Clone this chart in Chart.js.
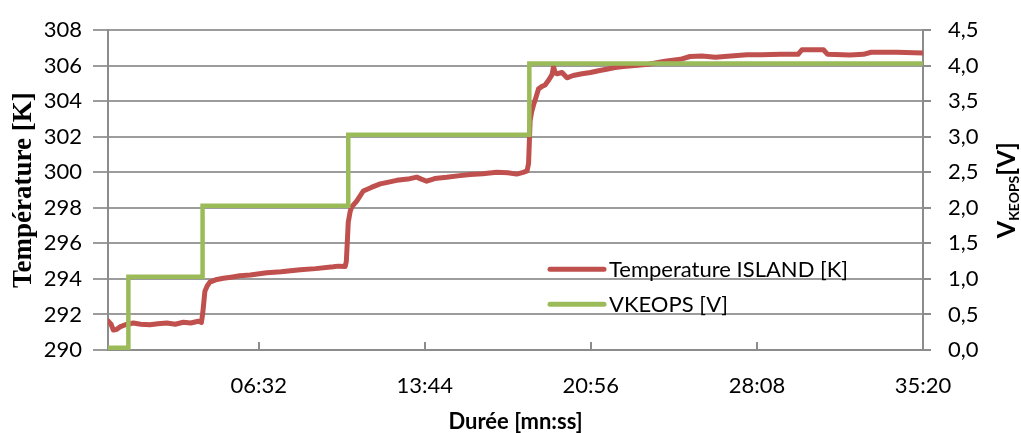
<!DOCTYPE html>
<html>
<head>
<meta charset="utf-8">
<script src="https://cdn.jsdelivr.net/npm/chart.js@4.4.0/dist/chart.umd.min.js"></script>
<style>
  html, body { margin: 0; padding: 0; background: #fff; }
  #wrap { width: 1021px; height: 433px; }
</style>
</head>
<body>
<div id="wrap"><canvas id="chart"></canvas></div>
<script>
// time in seconds since start
const tempTimes = [0, 8, 14, 22, 31, 45, 66, 85, 109, 130, 153, 175, 196, 215, 235, 243,
  246, 248, 252, 258, 265, 280, 300, 320, 343, 370, 413, 450, 500, 540, 586, 600, 617,
  620, 623, 625, 630, 634, 647, 664, 685, 708, 730, 751, 780, 803, 815, 829, 850, 881,
  910, 942, 975, 1011, 1040, 1063, 1080, 1090, 1094, 1098, 1102, 1107, 1113, 1120,
  1130, 1137, 1146, 1155, 1159, 1163, 1168, 1181, 1194, 1210, 1233, 1255, 1276, 1300,
  1319, 1340, 1363, 1406, 1449, 1489, 1514, 1545, 1580, 1620, 1662, 1700, 1749, 1795,
  1805, 1861, 1872, 1930, 1965, 1985, 2052, 2120];
const tempValues = [291.64, 291.45, 291.12, 291.15, 291.30, 291.42, 291.52, 291.45, 291.42,
  291.48, 291.52, 291.45, 291.56, 291.52, 291.62, 291.55,
  292.0, 292.4, 293.3, 293.6, 293.82, 293.95, 294.04, 294.10, 294.18, 294.22, 294.35,
  294.40, 294.52, 294.58, 294.68, 294.72, 294.70,
  295.0, 296.3, 297.2, 297.8, 298.05, 298.38, 298.95, 299.15, 299.35, 299.45, 299.55,
  299.62, 299.73, 299.62, 299.50, 299.65, 299.72,
  299.80, 299.88, 299.92, 300.0, 299.98, 299.90, 300.0, 300.08, 300.5, 302.9, 303.4,
  303.8, 304.2, 304.7,
  304.85, 304.92, 305.18, 305.5, 305.95, 305.6, 305.55, 305.62, 305.32, 305.45, 305.55,
  305.62, 305.72, 305.82,
  305.90, 305.95, 306.0, 306.08, 306.25, 306.36, 306.52, 306.55, 306.48, 306.55, 306.62,
  306.62, 306.65, 306.64,
  306.9, 306.9, 306.64, 306.6, 306.64, 306.76, 306.76, 306.72];

const voltTimes = [0, 53, 246, 625, 1096, 2120];
const voltValues = [0.03, 1.03, 2.03, 3.03, 4.03, 4.03];

const xTickValues = [392, 824, 1256, 1688, 2120];
const seriesLabels = ["Temperature ISLAND [K]", "VKEOPS [V]"];
const seriesColors = ["#C0504D", "#9BBB59"];

const axisGrey = "#8c8c8c";
const gridGrey = "#9c9c9c";
const tickFont = { family: "Lato", size: 22 };

function mmss(sec) {
  const m = Math.floor(sec / 60);
  const s = Math.round(sec - m * 60);
  return String(m).padStart(2, "0") + ":" + String(s).padStart(2, "0");
}

// legend drawn inside the plot area, like the Excel one
const insideLegend = {
  id: "insideLegend",
  afterDatasetsDraw(chart) {
    const ctx = chart.ctx;
    const area = chart.chartArea;
    const x0 = area.left + 442;
    const rows = [area.top + 239, area.top + 274];
    ctx.save();
    ctx.font = "22px Lato";
    ctx.textBaseline = "middle";
    ctx.lineCap = "round";
    seriesLabels.forEach((label, i) => {
      ctx.strokeStyle = seriesColors[i];
      ctx.lineWidth = 5;
      ctx.beginPath();
      ctx.moveTo(x0, rows[i]);
      ctx.lineTo(x0 + 54, rows[i]);
      ctx.stroke();
      ctx.fillStyle = "#000";
      ctx.fillText(label, x0 + 59, rows[i] + 1);
    });
    ctx.restore();
  }
};

// right axis title with subscript
const rightTitle = {
  id: "rightTitle",
  afterDraw(chart) {
    const ctx = chart.ctx;
    const area = chart.chartArea;
    const big = "bold 25px Lato";
    const small = "bold 14px Lato";
    ctx.save();
    ctx.font = big;
    const w1 = ctx.measureText("V").width;
    const w3 = ctx.measureText("[V]").width;
    ctx.font = small;
    const w2 = ctx.measureText("KEOPS").width;
    const total = w1 + w2 + w3;
    ctx.translate(1007, (area.top + area.bottom) / 2);
    ctx.rotate(-Math.PI / 2);
    ctx.fillStyle = "#000";
    ctx.textBaseline = "middle";
    let x = -total / 2;
    ctx.font = big;
    ctx.fillText("V", x, 0);
    x += w1;
    ctx.font = small;
    ctx.fillText("KEOPS", x, 7);
    x += w2;
    ctx.font = big;
    ctx.fillText("[V]", x, 0);
    ctx.restore();
  }
};

new Chart(document.getElementById("chart"), {
  type: "line",
  data: {
    datasets: [
      {
        label: seriesLabels[0],
        data: tempTimes.map((t, i) => ({ x: t, y: tempValues[i] })),
        borderColor: seriesColors[0],
        borderWidth: 5,
        borderJoinStyle: "round",
        borderCapStyle: "round",
        pointRadius: 0,
        yAxisID: "y",
        order: 1
      },
      {
        label: seriesLabels[1],
        data: voltTimes.map((t, i) => ({ x: t, y: voltValues[i] })),
        borderColor: seriesColors[1],
        borderWidth: 4.5,
        borderCapStyle: "butt",
        stepped: "before",
        pointRadius: 0,
        yAxisID: "y1",
        order: 0
      }
    ]
  },
  options: {
    responsive: true,
    maintainAspectRatio: false,
    animation: false,
    layout: { padding: { top: 20, left: 0, right: 0, bottom: 0 } },
    plugins: {
      legend: { display: false },
      tooltip: { enabled: false }
    },
    scales: {
      x: {
        type: "linear",
        min: 0,
        max: 2120,
        afterBuildTicks: (axis) => { axis.ticks = xTickValues.map(v => ({ value: v })); },
        afterFit: (axis) => { axis.height = 83; },
        ticks: {
          callback: (v) => mmss(v),
          font: tickFont,
          color: "#000",
          padding: 31,
          maxRotation: 0,
          autoSkip: false
        },
        grid: { drawOnChartArea: false, color: axisGrey, lineWidth: 2, tickLength: -8 },
        border: { color: axisGrey, width: 2 },
        title: {
          display: true,
          text: "Durée [mn:ss]",
          font: { family: "Lato", size: 22, weight: "bold" },
          color: "#000",
          padding: { top: 0, bottom: -2 }
        }
      },
      y: {
        position: "left",
        min: 290,
        max: 308,
        afterFit: (axis) => { axis.width = 108; },
        ticks: { stepSize: 2, font: tickFont, color: "#000", padding: 11 },
        grid: { color: gridGrey, lineWidth: 2, tickLength: 15 },
        border: { color: axisGrey, width: 2 },
        title: {
          display: true,
          text: "Température [K]",
          font: { family: "Liberation Serif", size: 27, weight: "bold" },
          color: "#000",
          padding: { top: 8, bottom: 0 }
        }
      },
      y1: {
        position: "right",
        min: 0,
        max: 4.5,
        afterFit: (axis) => { axis.width = 98; },
        ticks: {
          stepSize: 0.5,
          font: tickFont,
          color: "#000",
          padding: 17,
          callback: (v) => v.toFixed(1).replace(".", ",")
        },
        grid: { drawOnChartArea: false, color: axisGrey, lineWidth: 2, tickLength: 8 },
        border: { color: axisGrey, width: 2 }
      }
    }
  },
  plugins: [insideLegend, rightTitle]
});
</script>
</body>
</html>
